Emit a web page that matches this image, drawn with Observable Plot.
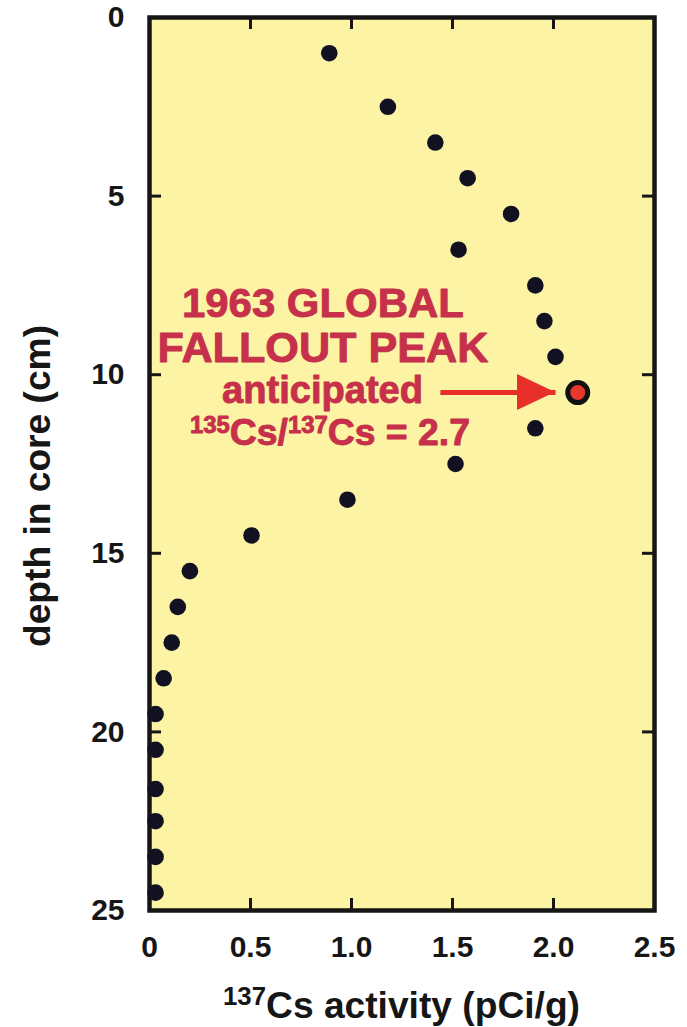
<!DOCTYPE html>
<html><head><meta charset="utf-8">
<script src="https://cdn.jsdelivr.net/npm/d3@7"></script>
<script src="https://cdn.jsdelivr.net/npm/@observablehq/plot@0.6"></script>
<style>
html,body{margin:0;padding:0;background:#fff;}
#chart{width:687px;height:1027px;}
</style></head><body><div id="chart"></div>
<script>
// ---- data ----
const depthCm    = [1.0, 2.5, 3.5, 4.5, 5.5, 6.5, 7.5, 8.5, 9.5, 11.5, 12.5, 13.5, 14.5, 15.5, 16.5, 17.5, 18.5, 19.5, 20.5, 21.6, 22.5, 23.5, 24.5];
const csActivity = [0.89, 1.18, 1.415, 1.575, 1.79, 1.53, 1.91, 1.955, 2.01, 1.91, 1.515, 0.98, 0.505, 0.20, 0.14, 0.11, 0.07, 0.03, 0.03, 0.03, 0.03, 0.03, 0.03];
const peakDepth    = [10.5];
const peakActivity = [2.12];

const xTicks      = [0, 0.5, 1, 1.5, 2, 2.5];
const xTickLabels = ["0", "0.5", "1.0", "1.5", "2.0", "2.5"];
const yTicks      = [0, 5, 10, 15, 20, 25];
const yTickLabels = ["0", "5", "10", "15", "20", "25"];
const xInnerTicks = [0.5, 1, 1.5, 2];
const yInnerTicks = [5, 10, 15, 20];

const arrowActivity = [1.44, 2.01];
const arrowDepth    = [10.5, 10.5];

const noteLines = [
  [["1963 GLOBAL", false]],
  [["FALLOUT PEAK", false]],
  [["anticipated", false]],
  [["135", true], ["Cs/", false], ["137", true], ["Cs = 2.7", false]]
];
const noteActivity = [0.861, 0.861, 0.859, 0.896];
const noteDepth    = [8.40, 9.66, 10.81, 11.98];

const xLabelParts = [["137", true], ["Cs activity (pCi/g)", false]];
const yLabel = "depth in core (cm)";

// ---- layout ----
const W = 687, H = 1027, mL = 149, mR = 33, mT = 17, mB = 117;
const pw = W - mL - mR, ph = H - mT - mB;
const FONT = "'Liberation Sans', Arial, Helvetica, sans-serif";
const INK = "#161616";
const NOTE = "#c6304b";

const points = depthCm.map((d, i) => ({depth: d, activity: csActivity[i]}));
const peak = peakDepth.map((d, i) => ({depth: d, activity: peakActivity[i]}));
const arrow = [{x1: arrowActivity[0], x2: arrowActivity[1], y1: arrowDepth[0], y2: arrowDepth[1]}];

const chart = Plot.plot({
  width: W, height: H,
  marginLeft: mL, marginRight: mR, marginTop: mT, marginBottom: mB,
  style: {fontFamily: FONT, fontWeight: "bold", background: "transparent", color: INK, overflow: "visible"},
  x: {domain: [0, 2.5], axis: null},
  y: {domain: [0, 25], reverse: true, axis: null},
  marks: [
    Plot.frame({fill: "#fdf3a4", stroke: "none"}),
    Plot.tickX(xInnerTicks, {x: d => d, insetTop: ph - 12, stroke: INK, strokeWidth: 3}),
    Plot.tickX(xInnerTicks, {x: d => d, insetBottom: ph - 12, stroke: INK, strokeWidth: 3}),
    Plot.tickY(yInnerTicks, {y: d => d, insetRight: pw - 12, stroke: INK, strokeWidth: 3}),
    Plot.tickY(yInnerTicks, {y: d => d, insetLeft: pw - 12, stroke: INK, strokeWidth: 3}),
    Plot.frame({stroke: INK, strokeWidth: 4.5, fill: "none"}),
    Plot.axisX(xTicks, {anchor: "bottom", tickSize: 0, tickPadding: 25, label: null,
      tickFormat: d => xTickLabels[xTicks.indexOf(d)], fontSize: 30, fontWeight: "bold", fill: INK}),
    Plot.axisY(yTicks, {anchor: "left", tickSize: 0, tickPadding: 25, label: null,
      tickFormat: d => yTickLabels[yTicks.indexOf(d)], fontSize: 30, fontWeight: "bold", fill: INK}),
    Plot.dot(points, {x: "activity", y: "depth", r: 8.3, fill: "#111122", stroke: "none"}),
    Plot.link(arrow, {x1: "x1", x2: "x2", y1: "y1", y2: "y2", stroke: "#e8302a", strokeWidth: 5}),
    Plot.dot(peak, {x: "activity", y: "depth", r: 10, fill: "#e8382e", stroke: "#111", strokeWidth: 5})
  ]
});
document.getElementById("chart").appendChild(chart);

// ---- annotations drawn with the plot's own scales ----
const sx = chart.scale("x"), sy = chart.scale("y");
const svg = d3.select(chart);

// arrow head (filled triangle)
const tipX = sx.apply(arrowActivity[1]), tipY = sy.apply(arrowDepth[1]);
svg.append("path")
  .attr("d", `M${tipX},${tipY} L${tipX - 38},${tipY - 18} L${tipX - 38},${tipY + 18} Z`)
  .attr("fill", "#e8302a");

const noteSize = [41, 42, 38, 36];
const noteLen = [282, 331, 201, 280];
function addRich(g, parts, size, supSize, rise) {
  let up = false;
  parts.forEach(([t, sup]) => {
    const ts = g.append("tspan").text(t).attr("font-size", sup ? supSize : size);
    if (sup && !up) { ts.attr("dy", -rise); up = true; }
    else if (!sup && up) { ts.attr("dy", rise); up = false; }
  });
}
// one multi-line annotation text block
const note = svg.append("text")
  .attr("text-anchor", "middle")
  .attr("font-family", FONT)
  .attr("font-weight", "bold")
  .attr("fill", NOTE)
  .attr("stroke", NOTE)
  .attr("stroke-width", 0.9)
  .attr("stroke-linejoin", "round");
noteLines.forEach((parts, i) => {
  const line = note.append("tspan")
    .attr("x", sx.apply(noteActivity[i]))
    .attr("y", sy.apply(noteDepth[i]))
    .attr("font-size", noteSize[i])
    .attr("textLength", noteLen[i])
    .attr("lengthAdjust", "spacingAndGlyphs");
  addRich(line, parts, noteSize[i], 23, 12);
});

// x axis label
const xl = svg.append("text")
  .attr("x", mL + pw / 2).attr("y", 1018)
  .attr("text-anchor", "middle")
  .attr("font-family", FONT).attr("font-weight", "bold").attr("font-size", 36)
  .attr("fill", INK)
  .attr("textLength", 357).attr("lengthAdjust", "spacingAndGlyphs");
addRich(xl, xLabelParts, 36, 25, 13);

// y axis label
svg.append("text")
  .attr("transform", `translate(50,486) rotate(-90)`)
  .attr("text-anchor", "middle")
  .attr("font-family", FONT).attr("font-weight", "bold").attr("font-size", 36)
  .attr("fill", INK)
  .attr("textLength", 322).attr("lengthAdjust", "spacingAndGlyphs")
  .text(yLabel);
</script>
</body></html>
